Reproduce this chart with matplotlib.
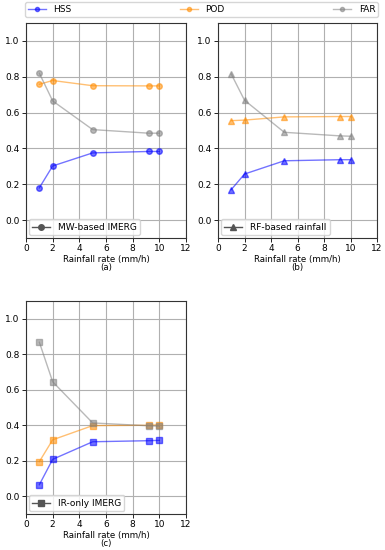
import matplotlib
matplotlib.use("Agg")
import matplotlib.pyplot as plt
from matplotlib.lines import Line2D

rates = [1, 2, 5, 9.2, 10]

hss_a = [0.18, 0.302, 0.375, 0.383, 0.383]
pod_a = [0.758, 0.779, 0.75, 0.749, 0.749]
far_a = [0.82, 0.665, 0.505, 0.485, 0.485]

hss_b = [0.17, 0.257, 0.331, 0.337, 0.337]
pod_b = [0.555, 0.558, 0.576, 0.578, 0.578]
far_b = [0.815, 0.669, 0.49, 0.47, 0.468]

hss_c = [0.065, 0.208, 0.307, 0.313, 0.315]
pod_c = [0.195, 0.318, 0.398, 0.400, 0.403]
far_c = [0.868, 0.645, 0.413, 0.397, 0.395]

metric_names = ["HSS", "POD", "FAR"]
colors = ["blue", "darkorange", "gray"]
panel_labels = ["MW-based IMERG", "RF-based rainfall", "IR-only IMERG"]
panel_tags = ["(a)", "(b)", "(c)"]
markers = ["o", "^", "s"]
panels = [(hss_a, pod_a, far_a), (hss_b, pod_b, far_b), (hss_c, pod_c, far_c)]

W, H = 385, 550
fig = plt.figure(figsize=(W / 100, H / 100), dpi=100)

boxes = [(26, 23, 186, 238), (218, 23, 377, 238), (26, 301, 186, 514)]
fs = 6.5
for (x0, y0, x1, y1), data, mk, lab, tag in zip(boxes, panels, markers, panel_labels, panel_tags):
    ax = fig.add_axes([x0 / W, 1 - y1 / H, (x1 - x0) / W, (y1 - y0) / H])
    for vals, c in zip(data, colors):
        ax.plot(rates, vals, marker=mk, color=c, alpha=0.55, lw=1.0, ms=4)
    ax.set_xlim(0, 12)
    ax.set_ylim(-0.1, 1.1)
    ax.set_xticks(range(0, 13, 2))
    ax.set_yticks([0.0, 0.2, 0.4, 0.6, 0.8, 1.0])
    ax.grid(True, color="#b0b0b0", lw=0.8)
    ax.tick_params(labelsize=fs, length=3, width=0.6, pad=1.5)
    for s in ax.spines.values():
        s.set_linewidth(0.8)
        s.set_color("#333333")
    ax.set_xlabel("Rainfall rate (mm/h)\n" + tag, fontsize=6.2, labelpad=1.0,
                  linespacing=0.95)
    h = Line2D([], [], color="#555555", marker=mk, lw=1.0, ms=4)
    ax.legend([h], [lab], loc="lower left", fontsize=fs, borderaxespad=0.3,
              handlelength=2.0, framealpha=0.8)

handles = [Line2D([], [], color=c, marker="o", alpha=0.55, lw=1.0, ms=3) for c in colors]
fig.legend(handles, metric_names, loc="upper left", ncol=3, mode="expand",
           bbox_to_anchor=(25 / W, 1 - 3 / H, (378 - 25) / W, 0.001),
           fontsize=fs, borderaxespad=0, handlelength=2.0, borderpad=0.3)

fig.savefig("out.png", dpi=100)
